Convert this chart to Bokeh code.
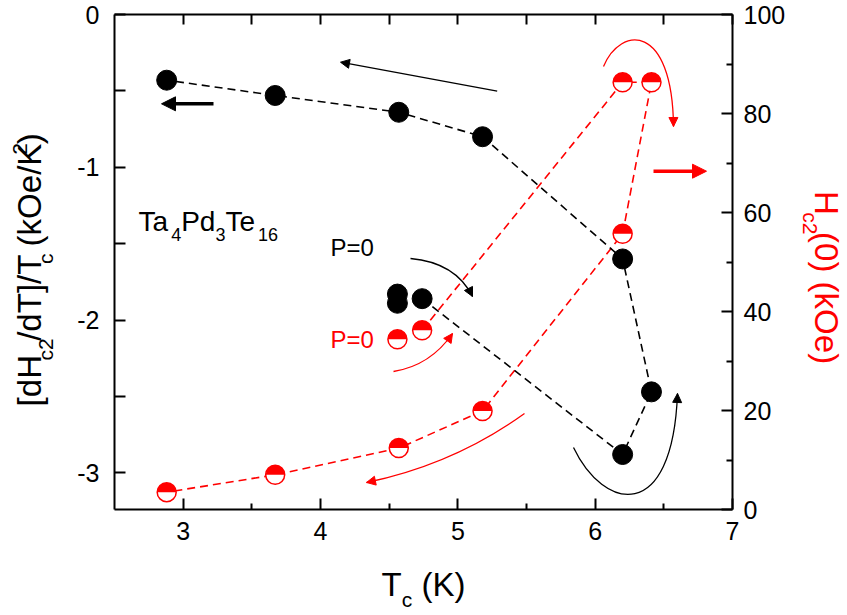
import numpy as np
from bokeh.plotting import figure
from bokeh.layouts import row, column
from bokeh.models import (Range1d, LinearAxis, FixedTicker, Label, Arrow,
                          NormalHead, CustomJSTickFormatter)
from bokeh.embed import file_html
from bokeh.resources import INLINE

# ---------------- data ----------------
tc = [6.20, 6.41, 6.20, 5.18, 4.57, 3.67, 2.88]            # Tc (K) under pressure
slope_over_tc = [-2.88, -2.47, -1.60, -0.80, -0.64, -0.53, -0.43]  # [dHc2/dT]/Tc
hc2_0 = [86.3, 86.3, 55.7, 19.9, 12.4, 7.0, 3.5]           # Hc2(0) (kOe)
tc_p0_black = [4.56, 4.56, 4.74]                           # ambient pressure
slope_p0 = [-1.83, -1.89, -1.86]
tc_p0_red = [4.56, 4.74]
hc2_p0 = [34.4, 36.2]

x_ticks = [3, 4, 5, 6, 7]
x_minor = [3.5, 4.5, 5.5, 6.5]
top_ticks = [3, 3.5, 4, 4.5, 5, 5.5, 6, 6.5, 7]
left_ticks = [-3, -2, -1, 0]
left_minor = [-2.5, -1.5, -0.5]
right_ticks = [0, 20, 40, 60, 80, 100]
right_minor = [10, 30, 50, 70, 90]

# ---------------- geometry (page pixels) ----------------
LW = 64            # left label strip
MW, MH = 731, 555  # main figure
RW = 50            # right label strip
BH = 60            # bottom label strip
BL, BR, BT, BB = 50, 63, 14, 46
FL, FR = LW + BL, LW + MW - BR      # frame left / right on page (114 / 732)
FT, FB = BT, MH - BB                # frame top / bottom on page (14 / 509)
X0, X1 = 2.5, 7.0
Y0, Y1 = -3.24, 0.0
R0, R1 = 0.0, 100.0
FONT = "Liberation Sans"
MID = 0.3465   # Bokeh anchors Label text at the centre of its font box

p = figure(width=MW, height=MH, output_backend="svg", toolbar_location=None,
           x_range=Range1d(X0, X1), y_range=Range1d(Y0, Y1),
           min_border_left=BL, min_border_right=BR, min_border_top=BT,
           min_border_bottom=BB, x_axis_location=None, y_axis_location=None)
p.extra_y_ranges = {"r": Range1d(R0, R1)}
p.outline_line_color = None
p.background_fill_color = "white"
p.border_fill_color = "white"
p.xgrid.visible = False
p.ygrid.visible = False


def style(ax, major_in, minor_in, standoff):
    ax.axis_line_width = 2
    ax.axis_line_color = "black"
    ax.major_tick_in = major_in
    ax.major_tick_out = 0
    ax.minor_tick_in = minor_in
    ax.minor_tick_out = 0
    ax.major_tick_line_width = 2
    ax.minor_tick_line_width = 2
    ax.major_tick_line_color = "black"
    ax.minor_tick_line_color = "black"
    ax.major_label_text_font = FONT
    ax.major_label_text_font_size = "25px"
    ax.major_label_text_color = "black"
    ax.major_label_standoff = standoff


bottom = LinearAxis(ticker=FixedTicker(ticks=x_ticks, minor_ticks=x_minor),
                    formatter=CustomJSTickFormatter(code="return String(tick)"))
style(bottom, 11, 6, 12)
p.add_layout(bottom, "below")

top = LinearAxis(ticker=FixedTicker(ticks=top_ticks),
                 formatter=CustomJSTickFormatter(code="return ''"))
style(top, 10, 0, 0)
top.major_label_text_font_size = "0px"
p.add_layout(top, "above")

left = LinearAxis(ticker=FixedTicker(ticks=left_ticks, minor_ticks=left_minor),
                  formatter=CustomJSTickFormatter(code="return String(tick)"))
style(left, 11, 11, 15)
p.add_layout(left, "left")

right = LinearAxis(y_range_name="r",
                   ticker=FixedTicker(ticks=right_ticks, minor_ticks=right_minor),
                   formatter=CustomJSTickFormatter(code="return String(tick)"))
style(right, 11, 6, 11)
p.add_layout(right, "right")


# ---------------- helpers ----------------
def px2x(px):
    return X0 + (px - FL) * (X1 - X0) / (FR - FL)


def py2y(py):
    return Y1 - (py - FT) * (Y1 - Y0) / (FB - FT)


ARIAL = {' ': 278, '(': 333, ')': 333, '[': 278, ']': 278, '/': 278, '=': 584,
         'H': 722, 'K': 667, 'O': 778, 'P': 667, 'T': 611, 'a': 556, 'c': 500,
         'd': 556, 'e': 556, 'k': 500}


def tw(s, size):
    return sum(ARIAL.get(ch, 556) for ch in s) * size / 1000.0


def rich(fig, fx, fy, segs, x, y, direction="h", color="black", anchor="start"):
    """Place text segments on a common baseline (x, y are page pixels)."""
    total = sum(tw(s, sz) for s, sz, _ in segs)
    if anchor == "center":
        if direction == "h":
            x -= total / 2
        elif direction == "up":
            y += total / 2
        else:
            y -= total / 2
    adv = 0.0
    for s, sz, off in segs:
        lead = len(s) - len(s.lstrip(" "))
        a = adv + tw(" " * lead, sz)
        txt = s.lstrip(" ")
        m = MID * sz
        if direction == "h":
            px, py, ang = x + a, y + off - m, 0.0
        elif direction == "up":
            px, py, ang = x + off - m, y - a, np.pi / 2
        else:
            px, py, ang = x - off + m, y + a, -np.pi / 2
        fig.add_layout(Label(x=fx(px), y=fy(py), text=txt, angle=ang,
                             text_font=FONT, text_font_size=f"{sz}px",
                             text_color=color, text_align="left",
                             text_baseline="alphabetic"))
        adv += tw(s, sz)


# ---------------- data lines and markers ----------------
blk_x = [tc_p0_black[-1]] + tc
blk_y = [slope_p0[-1]] + slope_over_tc
red_x = [tc_p0_red[-1]] + tc
red_y = [hc2_p0[-1]] + hc2_0

p.line(red_x, red_y, y_range_name="r", line_color="red", line_width=1.6,
       line_dash="8 5")
p.line(blk_x, blk_y, line_color="black", line_width=1.6, line_dash="8 5")

p.scatter(tc + tc_p0_black, slope_over_tc + slope_p0, size=20,
          fill_color="black", line_color="black")

rx = tc + tc_p0_red
ry = hc2_0 + hc2_p0
p.scatter(rx, ry, y_range_name="r", size=19, fill_color="white", line_color=None)
p.wedge(rx, ry, y_range_name="r", radius=9.5, radius_units="screen",
        start_angle=0, end_angle=np.pi, fill_color="red", line_color=None)
p.scatter(rx, ry, y_range_name="r", size=19, fill_color=None,
          line_color="red", line_width=1.5)


# ---------------- arrows ----------------
def arrow(x0, y0, x1, y1, color, lw, hs):
    p.add_layout(Arrow(x_start=px2x(x0), y_start=py2y(y0), x_end=px2x(x1),
                       y_end=py2y(y1), line_color=color, line_width=lw,
                       end=NormalHead(size=hs, fill_color=color,
                                      line_color=color, line_width=1)))


def head(cx, cy, ex, ey, color, hs):
    d = np.hypot(ex - cx, ey - cy)
    ux, uy = (ex - cx) / d, (ey - cy) / d
    p.add_layout(Arrow(x_start=px2x(ex - 4 * ux), y_start=py2y(ey - 4 * uy),
                       x_end=px2x(ex), y_end=py2y(ey), line_alpha=0,
                       end=NormalHead(size=hs, fill_color=color,
                                      line_color=color, line_width=1)))


def quad(a, c, b, color, lw=1.3, hs=9):
    p.quadratic(x0=[px2x(a[0])], y0=[py2y(a[1])], x1=[px2x(b[0])],
                y1=[py2y(b[1])], cx=[px2x(c[0])], cy=[py2y(c[1])],
                line_color=color, line_width=lw)
    head(c[0], c[1], b[0], b[1], color, hs)


def cubic(a, c0, c1, b, color, lw=1.3, hs=9):
    p.bezier(x0=[px2x(a[0])], y0=[py2y(a[1])], x1=[px2x(b[0])],
             y1=[py2y(b[1])], cx0=[px2x(c0[0])], cy0=[py2y(c0[1])],
             cx1=[px2x(c1[0])], cy1=[py2y(c1[1])], line_color=color,
             line_width=lw)
    head(c1[0], c1[1], b[0], b[1], color, hs)


arrow(496.7, 90.7, 340, 61.7, "black", 1.3, 9)
arrow(213, 103.3, 161, 103.3, "black", 3.5, 14)
arrow(653, 170.7, 706, 170.7, "red", 3.5, 14)

cubic((603, 66), (620, 25), (672, 22), (673, 126), "red")
quad((410, 258), (455, 262), (472, 296), "black")
quad((393, 371), (430, 365), (452, 333), "red")
quad((524, 413), (453, 464), (366, 482), "red")
cubic((573, 447), (603, 510), (672, 525), (677, 393), "black")

# ---------------- in-plot texts ----------------
rich(p, px2x, py2y, [("Ta", 28, 0), ("4", 18, 9), ("Pd", 28, 0), ("3", 18, 9),
                     ("Te", 28, 0), ("16", 18, 9)], 138, 231)
rich(p, px2x, py2y, [("P=0", 24, 0)], 330, 255, color="black")
rich(p, px2x, py2y, [("P=0", 24, 0)], 330, 347, color="red")


# ---------------- axis-title strips (coordinates = page pixels) ----------------
def strip(w, h, x_lo, x_hi, y_top, y_bot):
    f = figure(width=w, height=h, output_backend="svg", toolbar_location=None,
               x_range=Range1d(x_lo, x_hi), y_range=Range1d(y_bot, y_top),
               min_border=0, min_border_left=0, min_border_right=0,
               min_border_top=0, min_border_bottom=0,
               x_axis_location=None, y_axis_location=None)
    f.outline_line_color = None
    f.background_fill_color = "white"
    f.border_fill_color = "white"
    f.xgrid.visible = False
    f.ygrid.visible = False
    return f


ident = lambda v: v

lf = strip(LW, MH, 0, LW, 0, MH)
rich(lf, ident, ident,
     [("[dH", 33, 0), ("c2", 21, 12), ("/dT]/T", 33, 0), ("c", 21, 12),
      (" (kOe/K", 33, 0), ("2", 21, -13), (")", 33, 0)], 40, 287, "up",
     anchor="center")

rf = strip(RW, MH, LW + MW, LW + MW + RW, 0, MH)
rich(rf, ident, ident, [("H", 33, 0), ("c2", 21, 12), ("(0) (kOe)", 33, 0)],
     815, 198, "down", color="red")

bf = strip(LW + MW + RW, BH, 0, LW + MW + RW, MH, MH + BH)
rich(bf, ident, ident, [("T", 33, 0), ("c", 21, 11), (" (K)", 33, 0)],
     (FL + FR) / 2, 595, "h", anchor="center")

layout = column(row(lf, p, rf, spacing=0), bf, spacing=0)

open("out.html", "w").write(file_html(layout, INLINE))
